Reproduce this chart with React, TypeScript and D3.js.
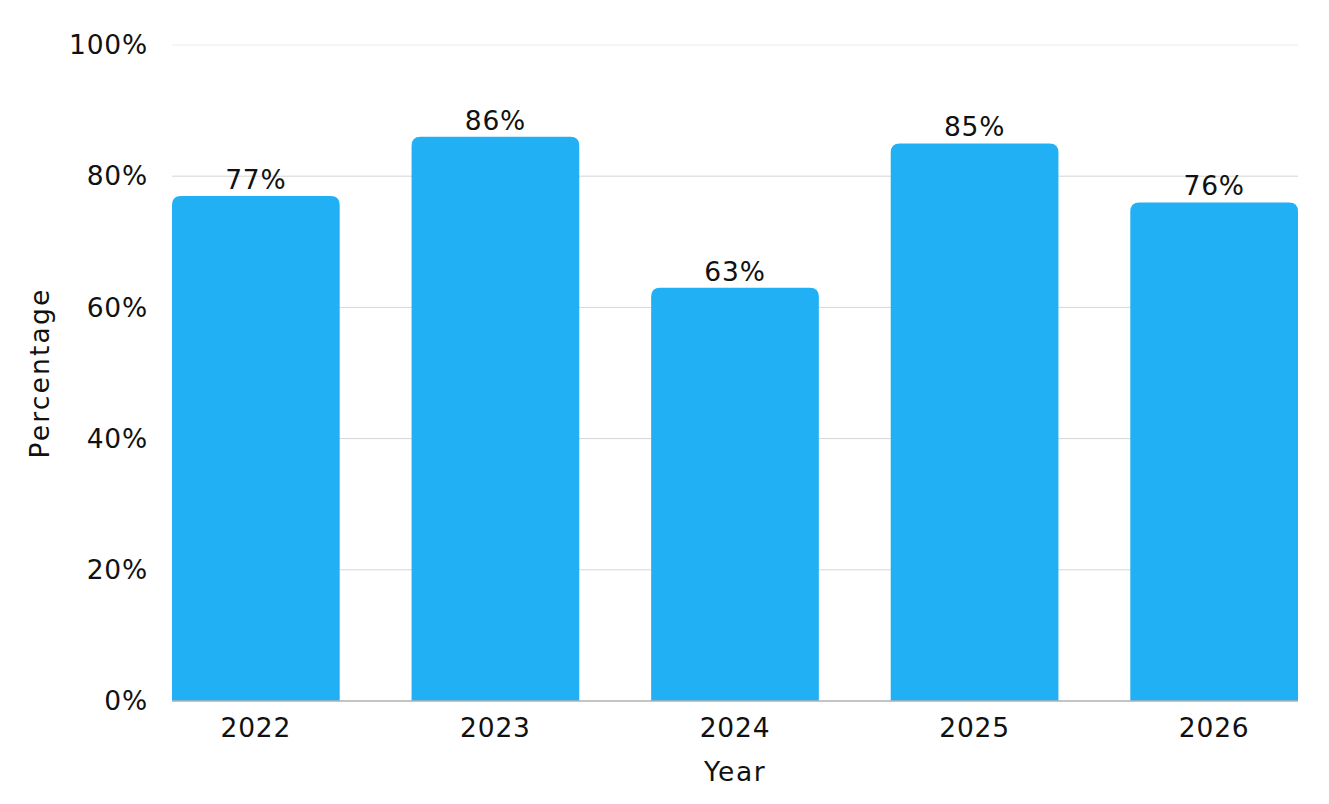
import React from 'react';
import * as d3 from 'd3';

const years = ['2022', '2023', '2024', '2025', '2026'];
const percentages = [77, 86, 63, 85, 76];
const yTicks = [0, 20, 40, 60, 80, 100];

const W = 1329;
const H = 804;
const margin = { top: 45, right: 31, bottom: 103, left: 172 };
const FONT = '"DejaVu Sans", sans-serif';

const topRoundedBar = (x: number, y: number, w: number, h: number, r: number) => {
  const rr = Math.min(r, h, w / 2);
  return `M${x},${y + h}V${y + rr}Q${x},${y} ${x + rr},${y}H${x + w - rr}Q${x + w},${y} ${x + w},${y + rr}V${y + h}Z`;
};

const App: React.FC = () => {
  const x = d3.scaleBand<string>()
    .domain(years)
    .range([margin.left, W - margin.right])
    .paddingInner(0.3)
    .paddingOuter(0);

  const y = d3.scaleLinear()
    .domain([0, 100])
    .range([H - margin.bottom, margin.top]);

  const label = { fontSize: 26.5, letterSpacing: 0.8, fill: '#111' };

  return (
    <div style={{ position: 'absolute', left: 0, top: 0 }}>
      <svg width={W} height={H} style={{ display: 'block', fontFamily: FONT }}>
        <rect width={W} height={H} fill="#fff" />
        {yTicks.map(t => (
          <g key={t}>
            {t > 0 && (
              <line x1={margin.left} x2={W - margin.right} y1={y(t)} y2={y(t)}
                stroke={t === 100 ? '#ececec' : '#d6d6d6'} strokeWidth={1} />
            )}
            <text x={margin.left - 24} y={y(t)} dy="0.35em" textAnchor="end" {...label}>
              {`${t}%`}
            </text>
          </g>
        ))}
        {years.map((yr, i) => {
          const v = percentages[i];
          const bx = x(yr)!;
          const bw = x.bandwidth();
          return (
            <g key={yr}>
              <path d={topRoundedBar(bx, y(v), bw, y(0) - y(v), 9)} fill="#22b0f5" />
              <text x={bx + bw / 2} y={y(v) - 7} textAnchor="middle" {...label}>
                {`${v}%`}
              </text>
              <text x={bx + bw / 2} y={y(0) + 27} dy="0.35em" textAnchor="middle" {...label}>
                {yr}
              </text>
            </g>
          );
        })}
        <line x1={margin.left} x2={W - margin.right} y1={y(0)} y2={y(0)} stroke="#b0b0b0" strokeWidth={1.5} />
        <text x={(margin.left + W - margin.right) / 2} y={772} dy="0.35em" textAnchor="middle"
          fontSize={26.5} letterSpacing={1.5} fill="#111">
          Year
        </text>
        <text transform={`translate(40,${(margin.top + H - margin.bottom) / 2}) rotate(-90)`} dy="0.35em"
          textAnchor="middle" fontSize={26.5} letterSpacing={2.2} fill="#111">
          Percentage
        </text>
      </svg>
    </div>
  );
};

export default App;
